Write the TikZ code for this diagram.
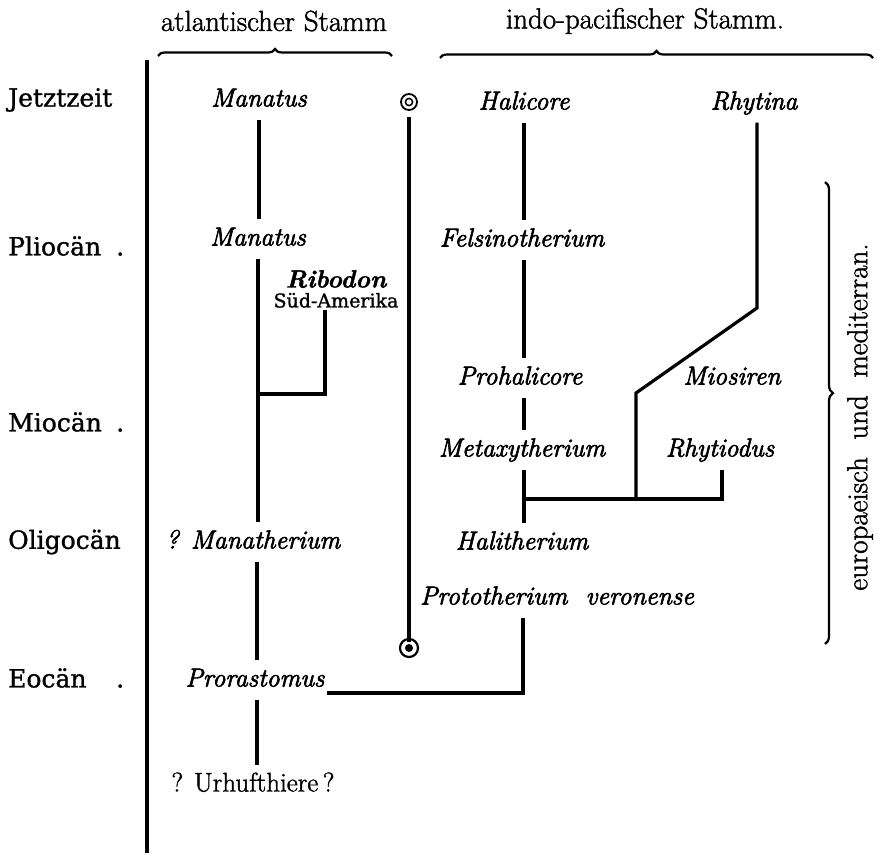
\documentclass[tikz,border=0pt]{standalone}
\usepackage{fontspec}
\newfontfamily\epochfont[FakeBold=1.2]{DejaVu Serif}
\newfontfamily\taxfont[FakeBold=1.5, ItalicFeatures={FakeBold=2.5}]{Latin Modern Roman}
\usetikzlibrary{decorations.pathreplacing,positioning}

\newcommand{\taxsize}{\fontsize{26}{30}\selectfont}
\newcommand{\epochbox}[1]{\makebox[116pt][l]{#1}}

\begin{document}
\begin{tikzpicture}[
  x=1pt, y=-1pt,
  taxon/.style={font=\taxfont\taxsize\itshape, inner xsep=2pt, inner ysep=8pt,
                text height=18pt, text depth=5pt},
  plain/.style={taxon, font=\taxfont\fontsize{27}{30}\selectfont},
  head/.style={font=\taxfont\fontsize{29}{32}\selectfont, inner sep=0pt},
  epoch/.style={font=\epochfont\fontsize{25}{30}\selectfont, anchor=west, inner sep=0pt},
  region/.style={font=\epochfont\fontsize{19}{21}\selectfont, inner sep=2pt},
  stem/.style={line width=3.2pt},
  brc/.style={decorate, line width=2.2pt},
  sym/.style={circle, draw, inner sep=0pt}
]
\path[use as bounding box, fill=white] (0,0) rectangle (877,853);

% column heads
\node[head] (hatl) at (274,21) {atlantischer Stamm};
\node[head] (hindo) at (645,21) {indo-pacifischer\ Stamm.};
\draw[brc, decoration={brace, amplitude=7pt}] (158,56) -- (392,56);
\draw[brc, decoration={brace, amplitude=7pt}] (440,58) -- (873,58);

% time axis
\draw[stem] (147,60) -- (147,853);
\node[epoch] (jetzt) at (8,100) {Jetztzeit};
\node[epoch] (plio) at (8,246) {\epochbox{Pliocän\hfill.}};
\node[epoch] (mio) at (8,422) {\epochbox{Miocän\hfill.}};
\node[epoch] (oligo) at (8,542) {Oligocän};
\node[epoch] (eoc) at (8,678) {\epochbox{Eocän\hfill.}};

% atlantic stem
\node[taxon] (manJ) at (259,100) {Manatus};
\node[taxon] (manP) at (258,239) {Manatus};
\node[taxon, font=\taxfont\fontsize{25}{28}\selectfont\bfseries\itshape, inner ysep=1pt] (ribo) at (336,281) {Ribodon};
\node[region, below=-3pt of ribo] (sued) {Süd-Amerika};
\node[taxon] (manath) at (253,542) {? Manatherium};
\node[taxon] (prora) at (255,680) {Prorastomus};
\node[plain] (urhuf) at (253,785) {? Urhufthiere\,?};
\coordinate (ribfork) at (258,394);

\draw[stem] (manJ.south) -- (manJ.south |- manP.north);
\draw[stem] (manP.south) -- (manP.south |- manath.north);
\draw[stem] (sued.south -| 325,0) |- (ribfork);
\draw[stem] (manath.south -| 257,0) -- (prora.north -| 257,0);
\draw[stem] (prora.south -| 257,0) -- (urhuf.north -| 257,0);

% markers
\node[sym, line width=1.8pt, minimum size=16pt] (symtop) at (409,102) {};
\draw[line width=1.5pt] (symtop.center) circle (3.6pt);
\node[sym, line width=2.2pt, minimum size=18pt] (symbot) at (409,648) {};
\fill (symbot.center) circle (4pt);
\draw[stem] ([yshift=-6pt]symtop.south) -- ([yshift=-4pt]symbot.north);

% indo-pacific stem
\node[taxon] (halic) at (524,103) {Halicore};
\node[taxon] (rhytina) at (754,103) {Rhytina};
\node[taxon] (felsi) at (522,240) {Felsinotherium};
\node[taxon] (prohal) at (520,378) {Prohalicore};
\node[taxon] (mios) at (732,378) {Miosiren};
\node[taxon] (metax) at (522,450) {Metaxytherium};
\node[taxon] (rhytio) at (720,450) {Rhytiodus};
\node[taxon] (halith) at (522,543) {Halitherium};
\node[taxon] (proto) at (557,598) {Prototherium\ \ veronense};
\coordinate (mfork) at (524,499);
\coordinate (rhyfork) at (722,499);
\coordinate (miokink) at (636,393);
\coordinate (rhykink) at (757,308);
\coordinate (eofork) at (523,693);

\draw[stem] (halic.south) -- (halic.south |- felsi.north);
\draw[stem] (felsi.south -| halic.south) -- (halic.south |- prohal.north);
\draw[stem] (prohal.south -| 524,0) -- (metax.north -| 524,0);
\draw[stem] (metax.south -| 524,0) -- (halith.north -| 524,0);
\draw[stem] (mfork) -- (rhyfork) -- (rhyfork |- rhytio.south);
\draw[stem] (mfork -| miokink) -- (miokink) -- (rhykink) -- (rhytina.south -| rhykink);
\draw[stem] (prora.east |- eofork) -- (eofork) -- (eofork |- proto.south);

% european-mediterranean range
\draw[brc, decoration={brace, amplitude=8pt, aspect=0.457}] (825,182) -- (825,644);
\node[head, rotate=90] (europ) at (860,417) {europaeisch\ \ und\ \ mediterran.};
\end{tikzpicture}
\end{document}
